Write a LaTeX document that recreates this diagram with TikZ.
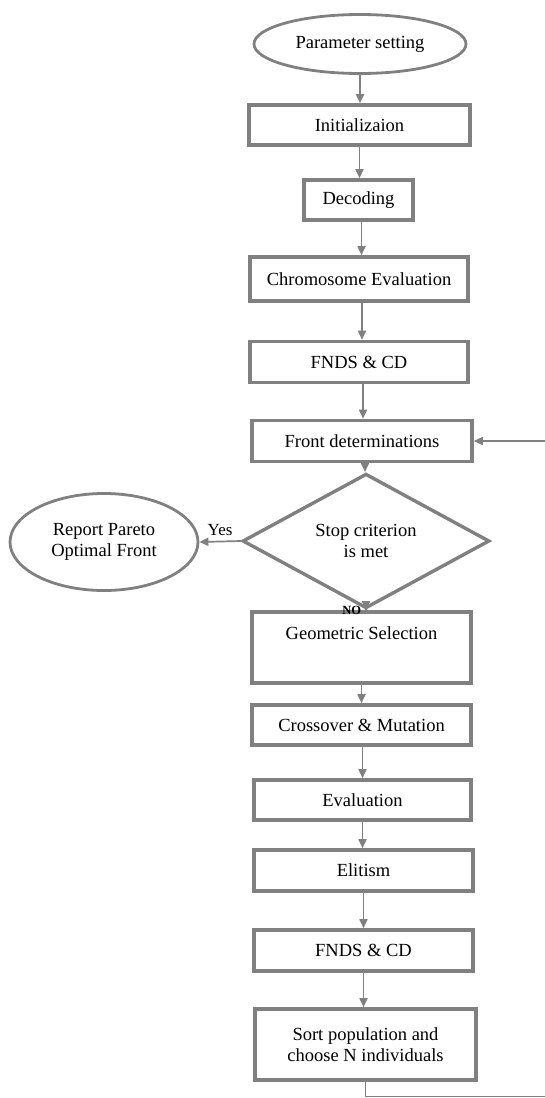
\documentclass[tikz,border=0pt]{standalone}
\usepackage{fontspec}
\setmainfont{Liberation Serif}
\usetikzlibrary{shapes.geometric,arrows.meta}
\definecolor{edgegray}{RGB}{128,128,128}
\tikzset{
  procbox/.style={draw=edgegray, line width=3.6pt, fill=white, inner sep=0pt, align=center, font=\fontsize{18.5}{21}\selectfont},
  termell/.style={ellipse, draw=edgegray, line width=2.8pt, fill=white, inner sep=0pt, align=center, font=\fontsize{18.5}{21}\selectfont},
  decision/.style={diamond, draw=edgegray, line width=3.4pt, fill=white, inner sep=0pt, align=center, font=\fontsize{18.5}{21}\selectfont},
  flow/.style={draw=edgegray, line width=1.7pt, -{Triangle[length=9pt,width=8pt]}},
  thinline/.style={draw=edgegray, line width=1pt},
  lbl/.style={inner sep=0pt, font=\fontsize{17}{20}\selectfont}
}
\begin{document}
\begin{tikzpicture}[x=1pt,y=-1pt]
\useasboundingbox (0,0) rectangle (545,1098);
\node[termell, minimum width=212pt, minimum height=59pt] (param) at (360,44) {Parameter setting};
\node[procbox, minimum width=221pt, minimum height=40pt] (init) at (359.5,125) {Initializaion};
\node[procbox, minimum width=109pt, minimum height=40pt] (dec) at (358.5,200) {Decoding};
\node[procbox, minimum width=218pt, minimum height=44pt] (chrom) at (359,279) {Chromosome Evaluation};
\node[procbox, minimum width=218pt, minimum height=41pt] (fnds1) at (359,362) {FNDS \& CD};
\node[procbox, minimum width=220pt, minimum height=41pt] (front) at (362,441) {Front determinations};
\node[decision, minimum width=247pt, minimum height=115pt] (stop) at (366,541) {Stop criterion\\is met};
\node[termell, minimum width=188pt, minimum height=97pt] (report) at (104,542) {Report Pareto\\Optimal Front};
\node[procbox, minimum width=219pt, minimum height=71pt] (geo) at (361.5,647.5) {};
\node[procbox, draw=none, fill=none] (geotext) at (361.5,633) {Geometric Selection};
\node[procbox, minimum width=219pt, minimum height=40pt] (cross) at (361.5,725) {Crossover \& Mutation};
\node[procbox, minimum width=217pt, minimum height=40pt] (eval) at (362.5,800) {Evaluation};
\node[procbox, minimum width=219pt, minimum height=41pt] (elit) at (363.5,870.5) {Elitism};
\node[procbox, minimum width=219pt, minimum height=41pt] (fnds2) at (363.5,950.5) {FNDS \& CD};
\node[procbox, minimum width=221pt, minimum height=71pt] (sort) at (365.5,1044.5) {Sort population and\\choose N individuals};
\coordinate (loopin) at (545,441);
\coordinate (loopout) at (545,1096);

\draw[flow] (param.south) -- (param.south |- init.north);
\draw[flow] (init.south) -- (init.south |- dec.north);
\draw[flow] ([xshift=3pt]dec.south) -- ([xshift=3pt]dec.south |- chrom.north);
\draw[flow] ([xshift=3pt]chrom.south) -- ([xshift=3pt]chrom.south |- fnds1.north);
\draw[flow] ([xshift=4pt]fnds1.south) -- ([xshift=4pt]fnds1.south |- front.north);
\draw[flow] ([xshift=3pt]front.south) -- ([xshift=3pt]front.south |- stop.north);
\draw[flow] (loopin) -- (front.east);
\draw[flow] (stop.west) -- (report.east) node[lbl, pos=0.5, above=5pt] {Yes};
\draw[flow] (stop.south) -- (stop.south |- geo.north) node[lbl, pos=0.1, left=4pt, font=\bfseries\fontsize{12.5}{14}\selectfont] {NO};
\draw[flow] (geo.south) -- (geo.south |- cross.north);
\draw[flow] ([xshift=1pt]cross.south) -- ([xshift=1pt]cross.south |- eval.north);
\draw[flow] (eval.south) -- (eval.south |- elit.north);
\draw[flow] (elit.south) -- (elit.south |- fnds2.north);
\draw[flow] (fnds2.south) -- (fnds2.south |- sort.north);
\draw[thinline] (sort.south) -- (sort.south |- loopout) -- (loopout);
\end{tikzpicture}
\end{document}
